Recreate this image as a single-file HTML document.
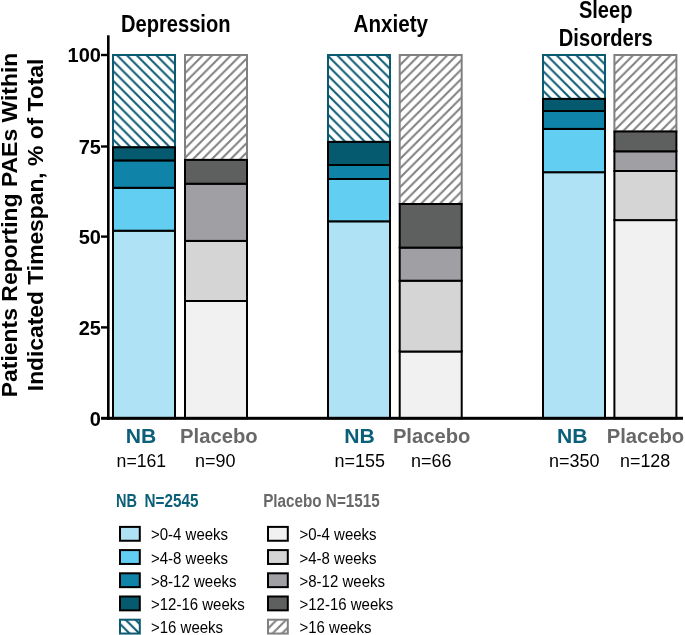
<!DOCTYPE html><html><head><meta charset="utf-8"><style>html,body{margin:0;padding:0;background:#fff;}svg{display:block;will-change:transform;}text{font-family:"Liberation Sans",sans-serif;}</style></head><body>
<svg width="685" height="635" viewBox="0 0 685 635">
<defs>
<pattern id="hnb0" patternUnits="userSpaceOnUse" width="9.8" height="9.8" patternTransform="translate(3.0,0)"><path d="M-9.8,-9.8 L19.6,19.6 M-9.8,0 L9.8,19.6 M0,-9.8 L19.6,9.8" stroke="#0b5a72" stroke-width="2.0" fill="none"/></pattern>
<pattern id="hnb1" patternUnits="userSpaceOnUse" width="9.8" height="9.8" patternTransform="translate(7.5,0)"><path d="M-9.8,-9.8 L19.6,19.6 M-9.8,0 L9.8,19.6 M0,-9.8 L19.6,9.8" stroke="#0b5a72" stroke-width="2.0" fill="none"/></pattern>
<pattern id="hnb2" patternUnits="userSpaceOnUse" width="9.8" height="9.8" patternTransform="translate(1.6,0)"><path d="M-9.8,-9.8 L19.6,19.6 M-9.8,0 L9.8,19.6 M0,-9.8 L19.6,9.8" stroke="#0b5a72" stroke-width="2.0" fill="none"/></pattern>
<pattern id="hpl0" patternUnits="userSpaceOnUse" width="9.4" height="9.4" patternTransform="translate(4.4,0)"><path d="M-9.4,9.4 L9.4,-9.4 M0,18.8 L18.8,0 M-9.4,18.8 L18.8,-9.4" stroke="#808080" stroke-width="2.0" fill="none"/></pattern>
<pattern id="hpl1" patternUnits="userSpaceOnUse" width="9.4" height="9.4" patternTransform="translate(4.4,0)"><path d="M-9.4,9.4 L9.4,-9.4 M0,18.8 L18.8,0 M-9.4,18.8 L18.8,-9.4" stroke="#808080" stroke-width="2.0" fill="none"/></pattern>
<pattern id="hpl2" patternUnits="userSpaceOnUse" width="9.4" height="9.4" patternTransform="translate(2.2,0)"><path d="M-9.4,9.4 L9.4,-9.4 M0,18.8 L18.8,0 M-9.4,18.8 L18.8,-9.4" stroke="#808080" stroke-width="2.0" fill="none"/></pattern>
<pattern id="hnbL" patternUnits="userSpaceOnUse" width="9.8" height="9.8" patternTransform="translate(5.7,0)"><path d="M-9.8,-9.8 L19.6,19.6 M-9.8,0 L9.8,19.6 M0,-9.8 L19.6,9.8" stroke="#0b5a72" stroke-width="2.0" fill="none"/></pattern>
<pattern id="hplL" patternUnits="userSpaceOnUse" width="9.4" height="9.4" patternTransform="translate(3.6,0)"><path d="M-9.4,9.4 L9.4,-9.4 M0,18.8 L18.8,0 M-9.4,18.8 L18.8,-9.4" stroke="#808080" stroke-width="2.0" fill="none"/></pattern>
</defs>
<rect x="113.0" y="55.0" width="62.0" height="92.30" fill="url(#hnb0)" stroke="#0b5a72" stroke-width="2.0"/>
<rect x="113.0" y="230.70" width="62.0" height="187.60" fill="#aee2f4" stroke="#000" stroke-width="2.0"/>
<rect x="113.0" y="187.80" width="62.0" height="42.90" fill="#62cef2" stroke="#000" stroke-width="2.0"/>
<rect x="113.0" y="160.40" width="62.0" height="27.40" fill="#1083a8" stroke="#000" stroke-width="2.0"/>
<rect x="113.0" y="147.30" width="62.0" height="13.10" fill="#065a70" stroke="#000" stroke-width="2.0"/>
<rect x="185.0" y="55.0" width="62.0" height="104.90" fill="url(#hpl0)" stroke="#808080" stroke-width="2.0"/>
<rect x="185.0" y="301.00" width="62.0" height="117.30" fill="#f1f1f1" stroke="#000" stroke-width="2.0"/>
<rect x="185.0" y="240.90" width="62.0" height="60.10" fill="#d5d5d5" stroke="#000" stroke-width="2.0"/>
<rect x="185.0" y="183.70" width="62.0" height="57.20" fill="#a09fa4" stroke="#000" stroke-width="2.0"/>
<rect x="185.0" y="159.90" width="62.0" height="23.80" fill="#5e605f" stroke="#000" stroke-width="2.0"/>
<rect x="328.0" y="55.0" width="62.0" height="86.90" fill="url(#hnb1)" stroke="#0b5a72" stroke-width="2.0"/>
<rect x="328.0" y="221.30" width="62.0" height="197.00" fill="#aee2f4" stroke="#000" stroke-width="2.0"/>
<rect x="328.0" y="179.00" width="62.0" height="42.30" fill="#62cef2" stroke="#000" stroke-width="2.0"/>
<rect x="328.0" y="165.00" width="62.0" height="14.00" fill="#1083a8" stroke="#000" stroke-width="2.0"/>
<rect x="328.0" y="141.90" width="62.0" height="23.10" fill="#065a70" stroke="#000" stroke-width="2.0"/>
<rect x="399.7" y="55.0" width="62.0" height="149.00" fill="url(#hpl1)" stroke="#808080" stroke-width="2.0"/>
<rect x="399.7" y="351.50" width="62.0" height="66.80" fill="#f1f1f1" stroke="#000" stroke-width="2.0"/>
<rect x="399.7" y="280.70" width="62.0" height="70.80" fill="#d5d5d5" stroke="#000" stroke-width="2.0"/>
<rect x="399.7" y="247.60" width="62.0" height="33.10" fill="#a09fa4" stroke="#000" stroke-width="2.0"/>
<rect x="399.7" y="204.00" width="62.0" height="43.60" fill="#5e605f" stroke="#000" stroke-width="2.0"/>
<rect x="543.0" y="55.0" width="62.0" height="43.90" fill="url(#hnb2)" stroke="#0b5a72" stroke-width="2.0"/>
<rect x="543.0" y="172.20" width="62.0" height="246.10" fill="#aee2f4" stroke="#000" stroke-width="2.0"/>
<rect x="543.0" y="128.90" width="62.0" height="43.30" fill="#62cef2" stroke="#000" stroke-width="2.0"/>
<rect x="543.0" y="111.00" width="62.0" height="17.90" fill="#1083a8" stroke="#000" stroke-width="2.0"/>
<rect x="543.0" y="98.90" width="62.0" height="12.10" fill="#065a70" stroke="#000" stroke-width="2.0"/>
<rect x="614.4" y="55.0" width="62.0" height="76.50" fill="url(#hpl2)" stroke="#808080" stroke-width="2.0"/>
<rect x="614.4" y="220.10" width="62.0" height="198.20" fill="#f1f1f1" stroke="#000" stroke-width="2.0"/>
<rect x="614.4" y="171.00" width="62.0" height="49.10" fill="#d5d5d5" stroke="#000" stroke-width="2.0"/>
<rect x="614.4" y="151.30" width="62.0" height="19.70" fill="#a09fa4" stroke="#000" stroke-width="2.0"/>
<rect x="614.4" y="131.50" width="62.0" height="19.80" fill="#5e605f" stroke="#000" stroke-width="2.0"/>
<rect x="107" y="35.3" width="2.6" height="384.6" fill="#000"/>
<rect x="107" y="416.8" width="576" height="3" fill="#000"/>
<rect x="101" y="53.80" width="7" height="2.4" fill="#000"/>
<text x="100.9" y="62.20" font-size="20" font-weight="bold" text-anchor="end">100</text>
<rect x="101" y="145.30" width="7" height="2.4" fill="#000"/>
<text x="100.9" y="153.70" font-size="20" font-weight="bold" text-anchor="end">75</text>
<rect x="101" y="235.40" width="7" height="2.4" fill="#000"/>
<text x="100.9" y="243.80" font-size="20" font-weight="bold" text-anchor="end">50</text>
<rect x="101" y="326.20" width="7" height="2.4" fill="#000"/>
<text x="100.9" y="334.60" font-size="20" font-weight="bold" text-anchor="end">25</text>
<rect x="101" y="416.80" width="7" height="3.0" fill="#000"/>
<text x="100.9" y="425.50" font-size="20" font-weight="bold" text-anchor="end">0</text>
<text x="121.0" y="31.6" font-size="23" font-weight="bold" fill="#000" text-anchor="start" textLength="109.5" lengthAdjust="spacingAndGlyphs">Depression</text>
<text x="353.6" y="31.8" font-size="23" font-weight="bold" fill="#000" text-anchor="start" textLength="74.5" lengthAdjust="spacingAndGlyphs">Anxiety</text>
<text x="578.9" y="17.7" font-size="23" font-weight="bold" fill="#000" text-anchor="start" textLength="53.5" lengthAdjust="spacingAndGlyphs">Sleep</text>
<text x="558.8" y="46.3" font-size="23" font-weight="bold" fill="#000" text-anchor="start" textLength="94" lengthAdjust="spacingAndGlyphs">Disorders</text>
<g transform="rotate(-90)">
<text x="-397.2" y="16.5" font-size="22" font-weight="bold" fill="#000" text-anchor="start" textLength="344.5" lengthAdjust="spacingAndGlyphs">Patients Reporting PAEs Within</text>
<text x="-391.2" y="43.1" font-size="22" font-weight="bold" fill="#000" text-anchor="start" textLength="332.5" lengthAdjust="spacingAndGlyphs">Indicated Timespan, % of Total</text>
</g>
<text x="125.8" y="442.8" font-size="20.5" font-weight="bold" fill="#0b5f78" text-anchor="start" textLength="30.5" lengthAdjust="spacingAndGlyphs">NB</text>
<text x="344.3" y="442.8" font-size="20.5" font-weight="bold" fill="#0b5f78" text-anchor="start" textLength="30.5" lengthAdjust="spacingAndGlyphs">NB</text>
<text x="557.0" y="442.8" font-size="20.5" font-weight="bold" fill="#0b5f78" text-anchor="start" textLength="30.5" lengthAdjust="spacingAndGlyphs">NB</text>
<text x="180.1" y="442.8" font-size="20.5" font-weight="bold" fill="#686868" text-anchor="start" textLength="77.5" lengthAdjust="spacingAndGlyphs">Placebo</text>
<text x="392.9" y="442.8" font-size="20.5" font-weight="bold" fill="#686868" text-anchor="start" textLength="77.5" lengthAdjust="spacingAndGlyphs">Placebo</text>
<text x="606.7" y="442.8" font-size="20.5" font-weight="bold" fill="#686868" text-anchor="start" textLength="77.5" lengthAdjust="spacingAndGlyphs">Placebo</text>
<text x="116.6" y="466.9" font-size="18" font-weight="normal" fill="#000" text-anchor="start" textLength="49.6" lengthAdjust="spacingAndGlyphs">n=161</text>
<text x="195.0" y="466.9" font-size="18" font-weight="normal" fill="#000" text-anchor="start" textLength="40.5" lengthAdjust="spacingAndGlyphs">n=90</text>
<text x="334.5" y="466.9" font-size="18" font-weight="normal" fill="#000" text-anchor="start" textLength="50.5" lengthAdjust="spacingAndGlyphs">n=155</text>
<text x="411.1" y="466.9" font-size="18" font-weight="normal" fill="#000" text-anchor="start" textLength="40.5" lengthAdjust="spacingAndGlyphs">n=66</text>
<text x="548.9" y="466.9" font-size="18" font-weight="normal" fill="#000" text-anchor="start" textLength="50.5" lengthAdjust="spacingAndGlyphs">n=350</text>
<text x="620.0" y="466.9" font-size="18" font-weight="normal" fill="#000" text-anchor="start" textLength="50.2" lengthAdjust="spacingAndGlyphs">n=128</text>
<text x="115.9" y="506.7" font-size="18" font-weight="bold" fill="#0b5f78" text-anchor="start" textLength="21.0" lengthAdjust="spacingAndGlyphs">NB</text>
<text x="144.5" y="506.7" font-size="18" font-weight="bold" fill="#0b5f78" text-anchor="start" textLength="54.0" lengthAdjust="spacingAndGlyphs">N=2545</text>
<text x="263.2" y="506.7" font-size="18" font-weight="bold" fill="#686868" text-anchor="start" textLength="116.5" lengthAdjust="spacingAndGlyphs">Placebo N=1515</text>
<rect x="120.0" y="526.90" width="19.8" height="13.85" fill="#aee2f4" stroke="#000" stroke-width="2"/>
<text x="151.0" y="540.30" font-size="17" font-weight="normal" fill="#000" text-anchor="start" textLength="77.1" lengthAdjust="spacingAndGlyphs">&gt;0-4 weeks</text>
<rect x="268.0" y="526.90" width="19.8" height="13.85" fill="#f1f1f1" stroke="#000" stroke-width="2"/>
<text x="299.5" y="540.30" font-size="17" font-weight="normal" fill="#000" text-anchor="start" textLength="77.1" lengthAdjust="spacingAndGlyphs">&gt;0-4 weeks</text>
<rect x="120.0" y="550.10" width="19.8" height="13.85" fill="#62cef2" stroke="#000" stroke-width="2"/>
<text x="151.0" y="563.50" font-size="17" font-weight="normal" fill="#000" text-anchor="start" textLength="77.1" lengthAdjust="spacingAndGlyphs">&gt;4-8 weeks</text>
<rect x="268.0" y="550.10" width="19.8" height="13.85" fill="#d5d5d5" stroke="#000" stroke-width="2"/>
<text x="299.5" y="563.50" font-size="17" font-weight="normal" fill="#000" text-anchor="start" textLength="77.1" lengthAdjust="spacingAndGlyphs">&gt;4-8 weeks</text>
<rect x="120.0" y="573.30" width="19.8" height="13.85" fill="#1083a8" stroke="#000" stroke-width="2"/>
<text x="151.0" y="586.70" font-size="17" font-weight="normal" fill="#000" text-anchor="start" textLength="85.5" lengthAdjust="spacingAndGlyphs">&gt;8-12 weeks</text>
<rect x="268.0" y="573.30" width="19.8" height="13.85" fill="#a09fa4" stroke="#000" stroke-width="2"/>
<text x="299.5" y="586.70" font-size="17" font-weight="normal" fill="#000" text-anchor="start" textLength="85.5" lengthAdjust="spacingAndGlyphs">&gt;8-12 weeks</text>
<rect x="120.0" y="596.50" width="19.8" height="13.85" fill="#065a70" stroke="#000" stroke-width="2"/>
<text x="151.0" y="609.90" font-size="17" font-weight="normal" fill="#000" text-anchor="start" textLength="93.8" lengthAdjust="spacingAndGlyphs">&gt;12-16 weeks</text>
<rect x="268.0" y="596.50" width="19.8" height="13.85" fill="#5e605f" stroke="#000" stroke-width="2"/>
<text x="299.5" y="609.90" font-size="17" font-weight="normal" fill="#000" text-anchor="start" textLength="93.8" lengthAdjust="spacingAndGlyphs">&gt;12-16 weeks</text>
<rect x="120.0" y="619.70" width="19.8" height="13.85" fill="url(#hnbL)" stroke="#0b5a72" stroke-width="2"/>
<text x="151.0" y="633.10" font-size="17" font-weight="normal" fill="#000" text-anchor="start" textLength="72.1" lengthAdjust="spacingAndGlyphs">&gt;16 weeks</text>
<rect x="268.0" y="619.70" width="19.8" height="13.85" fill="url(#hplL)" stroke="#808080" stroke-width="2"/>
<text x="299.5" y="633.10" font-size="17" font-weight="normal" fill="#000" text-anchor="start" textLength="72.1" lengthAdjust="spacingAndGlyphs">&gt;16 weeks</text>
</svg></body></html>
